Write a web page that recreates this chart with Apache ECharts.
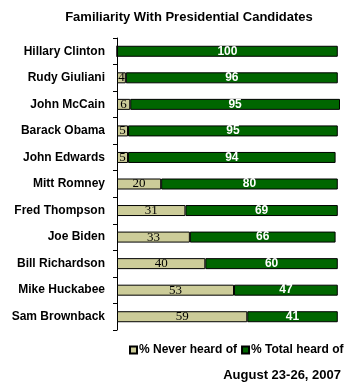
<!DOCTYPE html>
<html>
<head>
<meta charset="utf-8">
<script src="https://cdn.jsdelivr.net/npm/echarts@6/dist/echarts.min.js"></script>
<style>html,body{margin:0;padding:0;background:#fff;}#c{width:362px;height:390px;}</style>
</head>
<body>
<div id="c"></div>
<script>
var categories = ['Hillary Clinton','Rudy Giuliani','John McCain','Barack Obama','John Edwards','Mitt Romney','Fred Thompson','Joe Biden','Bill Richardson','Mike Huckabee','Sam Brownback'];
var neverHeard = [0,4,6,5,5,20,31,33,40,53,59];
var totalHeard = [100,96,95,95,94,80,69,66,60,47,41];
var seriesNames = ['% Never heard of','% Total heard of'];
var titleText = 'Familiarity With Presidential Candidates';
var dateText = 'August 23-26, 2007';

var chart = echarts.init(document.getElementById('c'));
var F = 'Arial, "Liberation Sans", sans-serif';
chart.setOption({
  animation: false,
  backgroundColor: '#fff',
  title: [
    {text: titleText, left: 184, top: 6, textAlign: 'center',
     textStyle: {fontFamily: F, fontSize: 13, fontWeight: 'bold', color: '#000'}},
    {text: dateText, right: 16, top: 364,
     textStyle: {fontFamily: F, fontSize: 13, fontWeight: 'bold', color: '#000'}}
  ],
  legend: {
    left: 124, top: 339, itemWidth: 7, itemHeight: 7, itemGap: 4,
    icon: 'rect',
    textStyle: {fontFamily: F, fontSize: 12, fontWeight: 'bold', color: '#000', padding: [0,0,0,-3]},
    data: seriesNames
  },
  grid: {left: 117, right: 22, top: 38, bottom: 60, containLabel: false},
  xAxis: {type: 'value', min: 0, max: 101, show: false},
  yAxis: {
    type: 'category', data: categories, inverse: true,
    axisLine: {lineStyle: {color: '#000', width: 1}},
    axisTick: {show: true, length: 4, lineStyle: {color: '#000'}},
    axisLabel: {fontFamily: F, fontSize: 12, fontWeight: 'bold', color: '#000', margin: 12}
  },
  series: [
    {name: seriesNames[0], type: 'bar', stack: 's', data: neverHeard, barWidth: 11,
     itemStyle: {color: '#cccc99', borderColor: '#000', borderWidth: 1},
     label: {show: true, position: 'inside', fontFamily: '"Liberation Serif", "Times New Roman", serif', fontSize: 13, color: '#000',
       formatter: function(p){ return p.value ? p.value : ''; }}},
    {name: seriesNames[1], type: 'bar', stack: 's', data: totalHeard, barWidth: 11,
     itemStyle: {color: '#006600', borderColor: '#000', borderWidth: 1},
     label: {show: true, position: 'inside', fontFamily: F, fontSize: 12, fontWeight: 'bold', color: '#fff'}}
  ]
});
</script>
</body>
</html>
